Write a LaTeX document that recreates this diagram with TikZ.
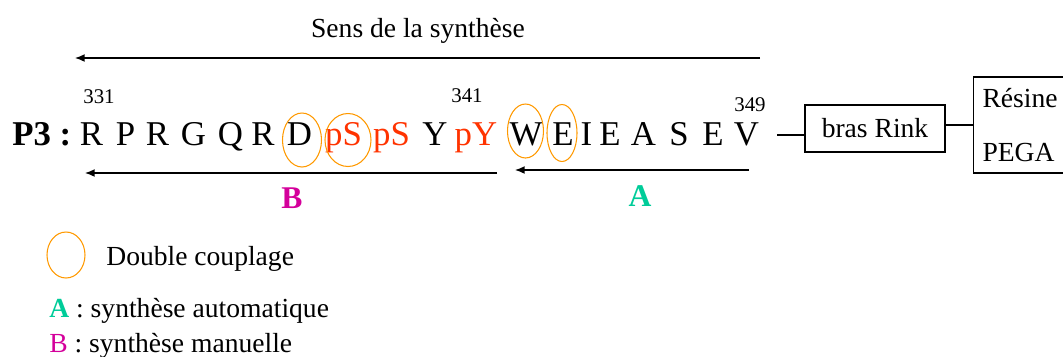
\documentclass[tikz,border=0pt]{standalone}
\usepackage{fontspec}
\setmainfont{Liberation Serif}
\usetikzlibrary{arrows.meta, positioning}
\definecolor{phosRed}{HTML}{FF3300}
\definecolor{ringOrange}{HTML}{FF9900}
\definecolor{autoGreen}{HTML}{00CC99}
\definecolor{manuMagenta}{HTML}{D4009B}

\tikzset{
  residue/.style={anchor=base, inner sep=0pt, font=\fontsize{19.8}{24}\selectfont},
  resnum/.style={inner sep=0pt, font=\fontsize{11.9}{14}\selectfont},
  txt/.style={inner sep=0pt, font=\fontsize{15.7}{19}\selectfont},
  tag/.style={inner sep=0pt, font=\fontsize{18}{22}\selectfont\bfseries},
  ring/.style={ringOrange, line width=0.6pt},
  synth/.style={-{Latex[length=5.5pt,width=4.5pt]}, line width=0.8pt},
  boxed/.style={draw, line width=0.6pt, font=\fontsize{15.7}{19}\selectfont}
}

\begin{document}
\begin{tikzpicture}[x=0.02cm, y=-0.02cm]
  \useasboundingbox (0,0) rectangle (1063,356);

  % direction of synthesis
  \node[txt] (sens) at (418,31) {Sens de la synthèse};
  \draw[synth] (760,58) -- (75,58);

  % peptide P3
  \node[residue, anchor=base west, font=\fontsize{19.8}{24}\selectfont\bfseries] (p3) at (12,145) {P3 :};
  \foreach \x/\r/\c [count=\i] in {91.5/R/black, 125.5/P/black, 157.5/R/black, 193.5/G/black,
      230.5/Q/black, 263/R/black, 299.5/D/black, 343.5/pS/phosRed, 391.5/pS/phosRed,
      435/Y/black, 476/pY/phosRed, 526/W/black, 563/E/black, 586.5/I/black, 610/E/black,
      643.5/A/black, 679/S/black, 713/E/black, 746.5/V/black}
    \node[residue, text=\c] (res\i) at (\x,145) {\r};
  \node[resnum] (n331) at (99,97) {331};
  \node[resnum] (n341) at (467,96) {341};
  \node[resnum] (n349) at (750,105) {349};

  % double couplings
  \draw[ring] (302,140) ellipse [x radius=19.5, y radius=27];
  \draw[ring] (348,140) ellipse [x radius=23, y radius=26.5];
  \draw[ring] (525.5,131) ellipse [x radius=18, y radius=27];
  \draw[ring] (562,133) ellipse [x radius=15, y radius=28.5];

  % support
  \node[boxed, minimum width=2.8cm, minimum height=0.94cm] (rink) at (875,128.5) {bras Rink};
  \node[boxed, anchor=west, align=left, inner xsep=0.18cm, text width=1.8cm,
    minimum height=1.92cm, font=\fontsize{15.7}{31}\selectfont] (resine) at (973,125) {Résine\\PEGA};
  \coordinate (tail) at (777,135);
  \draw[line width=0.6pt] (tail) -- (tail -| rink.west);
  \draw[line width=1.4pt] (resine.west) -- (resine.west -| rink.east);

  % automatic / manual parts
  \draw[synth] (497,173) -- (85,173);
  \draw[synth] (749,170) -- (515,170);
  \node[tag, text=manuMagenta] (partB) at (292,198) {B};
  \node[tag, text=autoGreen] (partA) at (640,196) {A};

  % legend
  \draw[ring] (66,255) ellipse [x radius=19, y radius=23];
  \node[txt, anchor=base west] (leg1) at (106,265) {Double couplage};
  \node[txt, anchor=base west] (leg2) at (49,317) {\textcolor{autoGreen}{\bfseries A} : synthèse automatique};
  \node[txt, anchor=base west] (leg3) at (49,352) {\textcolor{manuMagenta}{B} : synthèse manuelle};
\end{tikzpicture}
\end{document}
